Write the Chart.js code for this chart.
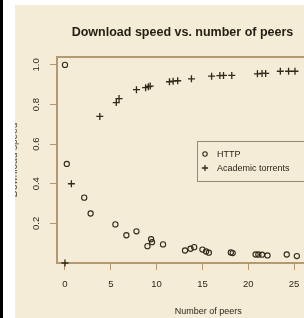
<!DOCTYPE html>
<html>
<head>
<meta charset="utf-8">
<script src="https://cdn.jsdelivr.net/npm/chart.js@4.4.1/dist/chart.umd.min.js"></script>
<style>
  html, body { margin: 0; padding: 0; background: #fff; overflow: hidden; width: 304px; height: 318px; }
  #edge { position: absolute; left: 0; top: 0; width: 3px; height: 318px; background: #000; z-index: 3; }
  #panel { position: absolute; left: 15px; top: 5px; width: 300px; height: 320px; background: #f4ecd7; }
  #wrap { position: absolute; left: 0; top: 0; width: 365px; height: 318px; filter: blur(0.55px); }
  #margin { position: absolute; left: 3px; top: 0; width: 12px; height: 318px; background: #fff; z-index: 2; }
  #topband { position: absolute; left: 3px; top: 0; width: 320px; height: 5px; background: #fff; z-index: 2; }
</style>
</head>
<body>
<div id="panel"></div>
<div id="wrap"><canvas id="chart-peers" width="365" height="318"></canvas></div>
<div id="margin"></div>
<div id="topband"></div>
<div id="edge"></div>
<script>
// values
const httpPeers = [0, 0.2, 2.1, 2.8, 5.5, 6.7, 7.8, 9.0, 9.4, 9.5, 10.7, 13.1, 13.7, 14.1, 15.0, 15.4, 15.7, 18.1, 18.3, 20.8, 21.1, 21.5, 22.1, 24.2, 25.3];
const httpSpeed = [1.0, 0.50, 0.33, 0.25, 0.195, 0.14, 0.16, 0.085, 0.12, 0.105, 0.094, 0.063, 0.072, 0.08, 0.068, 0.058, 0.052, 0.053, 0.05, 0.043, 0.043, 0.042, 0.038, 0.043, 0.035];

const torrentPeers = [0, 0.7, 3.8, 5.6, 5.9, 7.8, 8.8, 9.1, 9.3, 11.4, 11.8, 12.3, 13.8, 16.0, 16.9, 17.3, 18.2, 21.0, 21.5, 21.9, 23.5, 24.4, 25.1];
const torrentSpeed = [0.0, 0.40, 0.74, 0.81, 0.83, 0.875, 0.885, 0.89, 0.893, 0.915, 0.918, 0.92, 0.93, 0.943, 0.946, 0.947, 0.947, 0.955, 0.957, 0.957, 0.968, 0.968, 0.968];

const xTicks = [0, 5, 10, 15, 20, 25];
const yTicks = [0.2, 0.4, 0.6, 0.8, 1.0];
const yTickLabels = ["0.2", "0.4", "0.6", "0.8", "1.0"];

const ink = "#33281a";
const tan = "#b39872";
const paper = "#f4ecd7";
const font = "'Liberation Sans', Arial, sans-serif";

function toPoints(xs, ys) {
  return xs.map((x, i) => ({ x, y: ys[i] }));
}

// R-style closed box round the plot
const boxPlugin = {
  id: "plotBox",
  beforeDatasetsDraw(chart) {
    const a = chart.chartArea;
    const c = chart.ctx;
    c.save();
    c.strokeStyle = tan;
    c.lineWidth = 2;
    c.strokeRect(a.left, a.top, a.right - a.left, a.bottom - a.top);
    c.restore();
  }
};

// legend box sitting inside the plot, like legend("right", ...)
const legendPlugin = {
  id: "boxLegend",
  afterDraw(chart) {
    const c = chart.ctx;
    const x0 = 197, y0 = 141, w = 140, h = 40;
    c.save();
    c.fillStyle = paper;
    c.fillRect(x0, y0, w, h);
    c.strokeStyle = "#9c8a6c";
    c.lineWidth = 1;
    c.strokeRect(x0 + 0.5, y0 + 0.5, w, h);
    c.font = "9px " + font;
    c.textBaseline = "middle";
    chart.data.datasets.forEach((ds, i) => {
      const y = y0 + 13 + i * 14;
      c.strokeStyle = ink;
      c.fillStyle = "rgba(0,0,0,0)";
      c.lineWidth = ds.borderWidth;
      Chart.helpers.drawPoint(c, { pointStyle: ds.pointStyle, radius: ds.pointRadius - 0.4, borderWidth: ds.borderWidth, rotation: 0 }, x0 + 8, y);
      c.fillStyle = "#2a2418";
      c.fillText(ds.label, x0 + 20, y + 0.5);
    });
    c.restore();
  }
};

const ctx = document.getElementById("chart-peers").getContext("2d");
new Chart(ctx, {
  type: "scatter",
  data: {
    datasets: [
      { label: "HTTP", data: toPoints(httpPeers, httpSpeed), pointStyle: "circle", pointRadius: 2.6,
        borderColor: ink, backgroundColor: "rgba(0,0,0,0)", borderWidth: 1.1, clip: false },
      { label: "Academic torrents", data: toPoints(torrentPeers, torrentSpeed), pointStyle: "cross", pointRadius: 3.5,
        borderColor: ink, backgroundColor: ink, borderWidth: 1.3, clip: false }
    ]
  },
  options: {
    responsive: false, animation: false, devicePixelRatio: 1,
    layout: { padding: 0 },
    plugins: {
      legend: { display: false },
      tooltip: { enabled: false },
      title: { display: true, text: "Download speed vs. number of peers", color: "#241e14",
        font: { family: font, size: 12.5, weight: "bold" }, padding: { top: 25, bottom: 17 } }
    },
    scales: {
      x: {
        type: "linear", min: -0.87, max: 32.16,
        afterBuildTicks: s => { s.ticks = xTicks.map(v => ({ value: v })); },
        afterFit: s => { s.height = 55; },
        ticks: { color: "#2e2618", font: { family: font, size: 9.5 }, padding: 9, maxRotation: 0 },
        grid: { drawOnChartArea: false, drawTicks: true, tickLength: 7, color: tan, lineWidth: 1 },
        border: { display: false },
        title: { display: true, text: "Number of peers", color: "#2e2618",
          font: { family: font, size: 9 }, padding: { top: 0, bottom: 1 } }
      },
      y: {
        type: "linear", min: 0, max: 1.04,
        afterBuildTicks: s => { s.ticks = yTicks.map(v => ({ value: v })); },
        afterFit: s => { s.width = 57; },
        ticks: { color: "#2e2618", font: { family: font, size: 9.5 }, padding: 7,
          minRotation: 90, maxRotation: 90, crossAlign: "center",
          callback: v => yTickLabels[yTicks.findIndex(t => Math.abs(t - v) < 1e-6)] },
        grid: { drawOnChartArea: false, drawTicks: true, tickLength: 7, color: tan, lineWidth: 1 },
        border: { display: false },
        title: { display: true, text: "Download speed", color: "#5a4a32",
          font: { family: font, size: 10 }, padding: { top: 8, bottom: 0 } }
      }
    }
  },
  plugins: [boxPlugin, legendPlugin]
});
</script>
</body>
</html>
